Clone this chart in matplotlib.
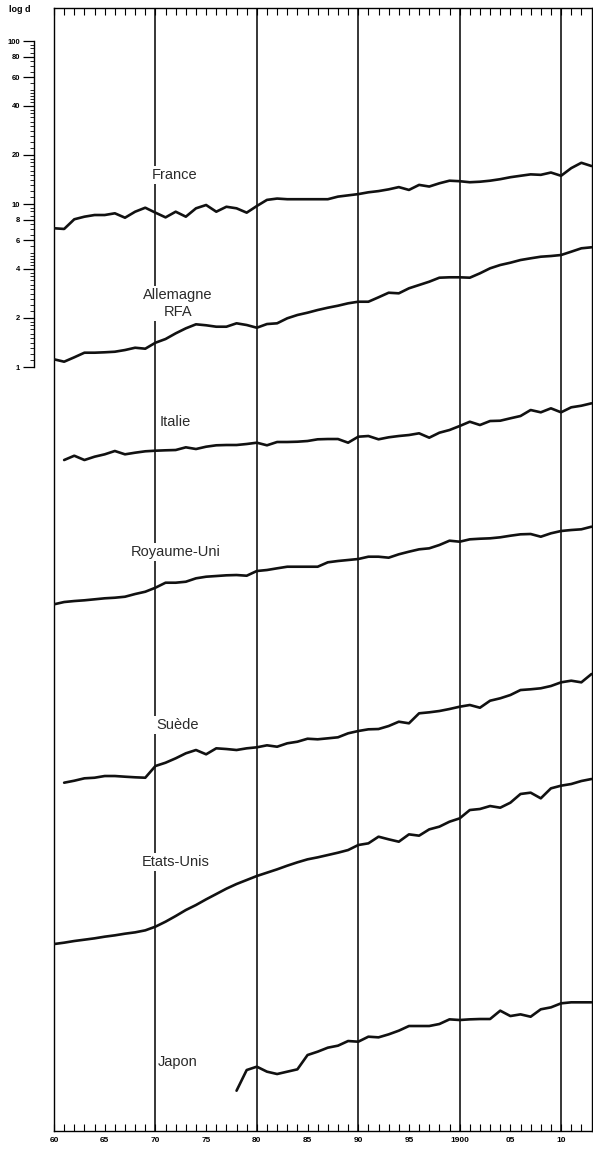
import numpy as np
import matplotlib.pyplot as plt
from matplotlib.ticker import FixedLocator, FixedFormatter, NullFormatter

plt.rcParams['font.family'] = ['Liberation Sans', 'DejaVu Sans']

# indices annuels (echelle log d), 1860-1913
years_france = np.arange(1860, 1914)
france = [7.10, 7.03, 8.06, 8.36, 8.56, 8.56, 8.77, 8.24, 8.97, 9.49,
          8.85, 8.28, 8.97, 8.36, 9.41, 9.86, 8.97, 9.62, 9.41, 8.85,
          9.72, 10.6, 10.8, 10.7, 10.7, 10.7, 10.7, 10.7, 11.1, 11.3,
          11.5, 11.8, 12.0, 12.3, 12.7, 12.2, 13.1, 12.8, 13.4, 13.9,
          13.8, 13.6, 13.7, 13.9, 14.2, 14.6, 14.9, 15.2, 15.1, 15.6,
          14.9, 16.6, 17.9, 17.1]

years_allemagne = np.arange(1860, 1914)
allemagne = [1.115, 1.078, 1.147, 1.224, 1.224, 1.231, 1.241, 1.271, 1.313, 1.295,
             1.409, 1.485, 1.609, 1.727, 1.828, 1.803, 1.767, 1.767, 1.854, 1.810,
             1.742, 1.835, 1.854, 1.990, 2.085, 2.154, 2.237, 2.311, 2.377, 2.459,
             2.515, 2.515, 2.677, 2.856, 2.832, 3.040, 3.185, 3.337, 3.531, 3.551,
             3.551, 3.531, 3.757, 4.032, 4.225, 4.364, 4.533, 4.644, 4.750, 4.797,
             4.865, 5.098, 5.349, 5.425]

years_italie = np.arange(1861, 1914)
italie = [2.688, 2.856, 2.688, 2.817, 2.913, 3.053, 2.913, 2.981, 3.040,
          3.066, 3.083, 3.096, 3.216, 3.140, 3.244, 3.309, 3.323, 3.323, 3.370,
          3.433, 3.309, 3.467, 3.467, 3.481, 3.516, 3.601, 3.616, 3.616, 3.433,
          3.736, 3.773, 3.601, 3.705, 3.773, 3.826, 3.920, 3.685, 3.953, 4.107,
          4.345, 4.617, 4.407, 4.663, 4.683, 4.845, 5.005, 5.447, 5.273, 5.579,
          5.273, 5.659, 5.788, 5.988]

years_ru = np.arange(1860, 1914)
royaume_uni = [3.501, 3.616, 3.667, 3.705, 3.757, 3.811, 3.843, 3.897, 4.049, 4.182,
               4.426, 4.750, 4.750, 4.817, 5.054, 5.170, 5.221, 5.273, 5.295, 5.243,
               5.604, 5.683, 5.821, 5.954, 5.954, 5.954, 5.954, 6.337, 6.455, 6.546,
               6.639, 6.859, 6.859, 6.764, 7.096, 7.362, 7.613, 7.721, 8.091, 8.600,
               8.479, 8.767, 8.842, 8.893, 9.020, 9.226, 9.410, 9.452, 9.097, 9.545,
               9.861, 10.00, 10.10, 10.48]

years_suede = np.arange(1861, 1914)
suede = [2.817, 2.897, 2.997, 3.022, 3.096, 3.096, 3.066, 3.040, 3.022,
         3.566, 3.736, 3.976, 4.267, 4.470, 4.207, 4.578, 4.533, 4.470, 4.578,
         4.644, 4.777, 4.683, 4.914, 5.026, 5.243, 5.200, 5.273, 5.349, 5.659,
         5.846, 5.988, 6.013, 6.273, 6.668, 6.520, 7.508, 7.613, 7.755, 7.977,
         8.241, 8.443, 8.124, 8.970, 9.280, 9.721, 10.43, 10.54, 10.69, 11.04,
         11.63, 11.90, 11.63, 13.08]

years_eu = np.arange(1860, 1914)
etats_unis = [2.884, 2.940, 3.010, 3.067, 3.126, 3.200, 3.261, 3.338, 3.402, 3.499,
              3.686, 3.955, 4.284, 4.663, 5.005, 5.423, 5.846, 6.305, 6.734, 7.125,
              7.540, 7.903, 8.284, 8.723, 9.146, 9.541, 9.814, 10.14, 10.48, 10.88,
              11.68, 11.96, 13.14, 12.66, 12.24, 13.58, 13.33, 14.57, 15.14, 16.24,
              17.02, 19.15, 19.43, 20.26, 19.79, 21.24, 24.02, 24.47, 22.59, 26.01,
              27.01, 27.65, 28.85, 29.68]

years_japon = np.arange(1878, 1914)
japon = [3.633, 4.865, 5.100, 4.753, 4.598, 4.753, 4.912, 6.013, 6.305, 6.671,
         6.862, 7.328, 7.259, 7.791, 7.718, 8.052, 8.482, 9.059, 9.059, 9.059,
         9.319, 9.953, 9.861, 9.953, 10.0, 10.0, 11.25, 10.43, 10.68, 10.33,
         11.47, 11.79, 12.48, 12.66, 12.66, 12.66]

names = ['France', 'Allemagne\nRFA', 'Italie', 'Royaume-Uni', 'Suède', 'Etats-Unis', 'Japon']
series = [(years_france, france), (years_allemagne, allemagne), (years_italie, italie),
          (years_ru, royaume_uni), (years_suede, suede), (years_eu, etats_unis),
          (years_japon, japon)]

# chaque courbe est descendue d'un nombre entier de decades pour l'empilement
decades_down = [0, 0, 1, 2, 3, 4, 5]
# position des noms (annee, niveau dans l'unite de la serie)
label_year = [1871.9, 1872.2, 1872.0, 1872.0, 1872.2, 1872.0, 1872.2]
label_level = [15.1, 2.46, 4.6, 7.36, 6.37, 9.19, 5.47]

scale_ticks = [1, 2, 4, 6, 8, 10, 20, 40, 60, 80, 100]
year_ticks = [1860, 1865, 1870, 1875, 1880, 1885, 1890, 1895, 1900, 1905, 1910]
year_labels = ['60', '65', '70', '75', '80', '85', '90', '95', '1900', '05', '10']

W, H = 593, 1149
fig = plt.figure(figsize=(W / 100, H / 100), dpi=100)
ax = fig.add_axes([54 / W, 18 / H, 537.5 / W, 1123 / H])
ax.set_yscale('log')
ax.set_xlim(1860, 1913)
ax.set_ylim(10 ** -4.687, 10 ** 2.2025)

for yr in range(1870, 1911, 10):
    ax.axvline(yr, color='black', lw=1.1, zorder=1)

for (yrs, vals), shift in zip(series, decades_down):
    ax.plot(yrs, np.array(vals) / 10 ** shift, color='#111111', lw=1.9,
            solid_joinstyle='round', solid_capstyle='round', zorder=4)

for name, yr, lvl, shift in zip(names, label_year, label_level, decades_down):
    ax.text(yr, lvl / 10 ** shift, name, ha='center', va='center', fontsize=10.5,
            color='#2a2a2a', linespacing=1.25, zorder=3,
            bbox=dict(facecolor='white', edgecolor='none', pad=1.5))

for side in ['left', 'top', 'bottom', 'right']:
    ax.spines[side].set_linewidth(1.0)

ax.tick_params(axis='y', which='both', left=False, labelleft=False)
ax.xaxis.set_major_locator(FixedLocator(year_ticks))
ax.xaxis.set_major_formatter(FixedFormatter(year_labels))
ax.xaxis.set_minor_locator(FixedLocator(range(1861, 1913)))
ax.tick_params(axis='x', which='both', direction='in', top=True, bottom=True,
               length=5, width=0.8, labelsize=6, pad=4)
for lab in ax.get_xticklabels():
    lab.set_fontweight('bold')

# echelle logarithmique de reference, a gauche
sax = fig.add_axes([34 / W, 18 / H, 0.5 / W, 1123 / H], sharey=ax)
sax.set_yscale('log')
sax.set_ylim(ax.get_ylim())
for side in ['right', 'top', 'bottom']:
    sax.spines[side].set_visible(False)
sax.spines['left'].set_bounds(1, 100)
sax.spines['left'].set_linewidth(1.0)
sax.set_xticks([])
sax.yaxis.set_major_locator(FixedLocator(scale_ticks))
sax.yaxis.set_major_formatter(FixedFormatter([str(t) for t in scale_ticks]))
minor = np.concatenate([np.arange(1.1, 2, 0.1), np.arange(2.2, 5, 0.2), np.arange(5, 10, 0.5)])
minor = [m for m in np.concatenate([minor, minor * 10]) if m not in scale_ticks]
sax.yaxis.set_minor_locator(FixedLocator(minor))
sax.yaxis.set_minor_formatter(NullFormatter())
sax.tick_params(axis='y', which='major', direction='out', length=8, width=0.9,
                labelsize=5.5, pad=2)
sax.tick_params(axis='y', which='minor', direction='out', length=3, width=0.6)
for lab in sax.get_yticklabels():
    lab.set_fontweight('bold')

fig.text(20 / W, 1 - 10 / H, 'log d', ha='center', va='center', fontsize=6.5,
         fontweight='bold')

fig.savefig('out.png', dpi=100)
